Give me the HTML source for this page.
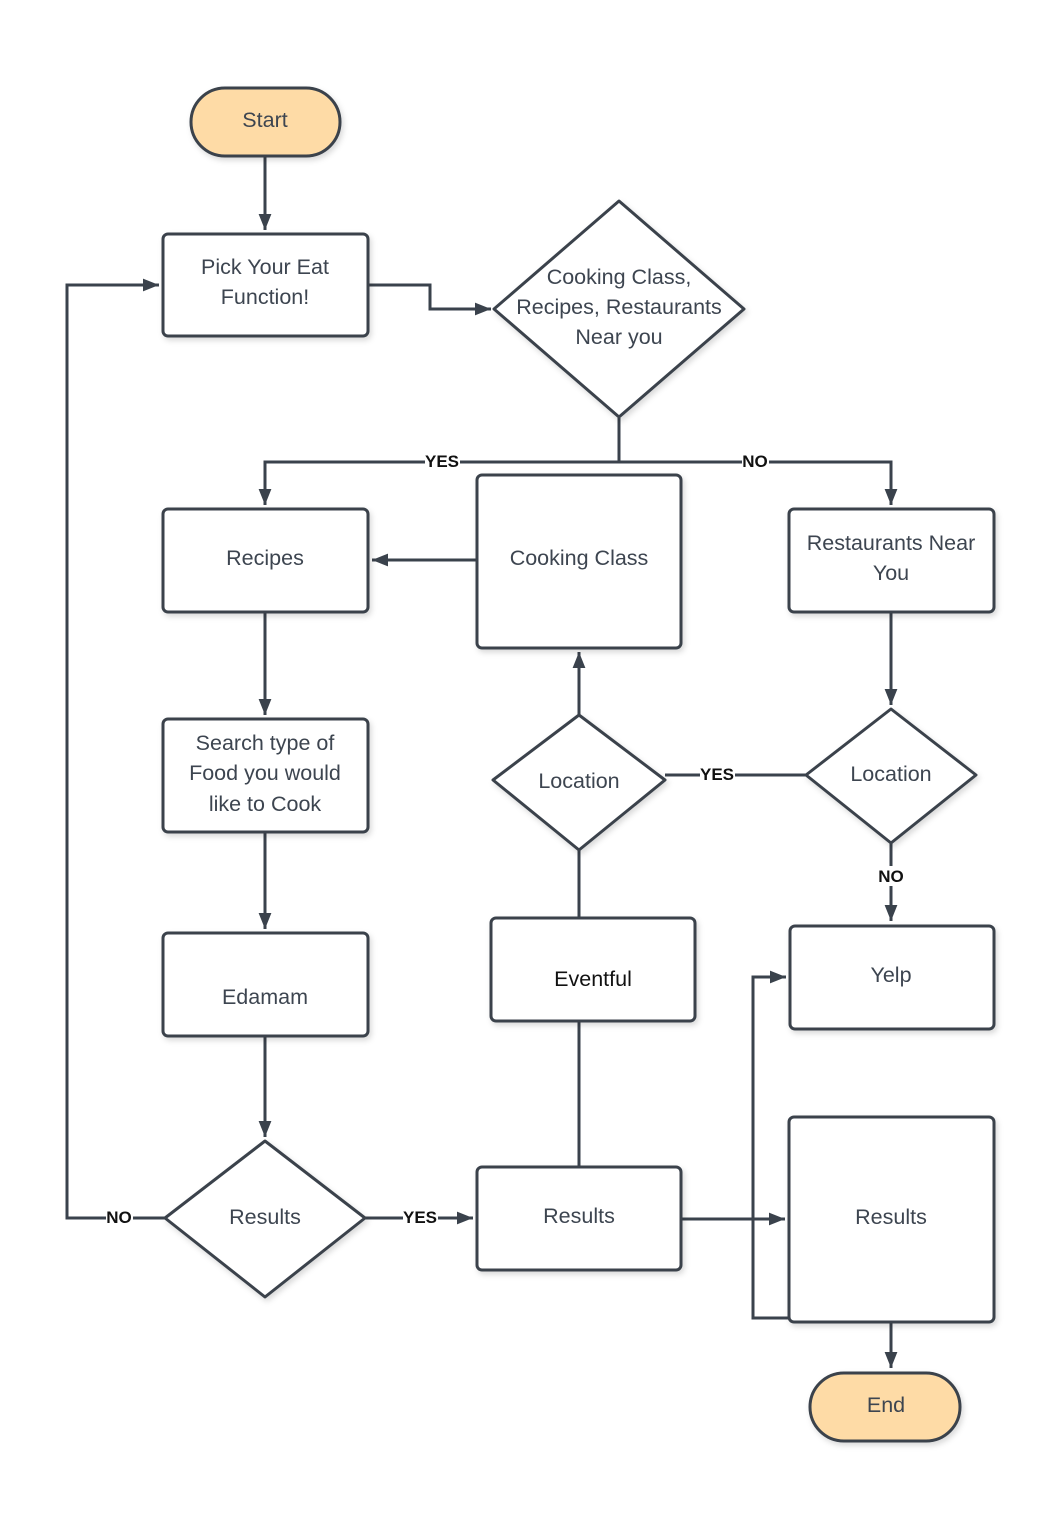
<!DOCTYPE html>
<html><head><style>
html,body{margin:0;padding:0;background:#fff;}
svg{display:block;}
text{font-family:"Liberation Sans",Arial,sans-serif;font-size:21.5px;fill:#3d4550;text-anchor:middle;}
.lb{font-weight:bold;font-size:17px;fill:#111;}
</style></head><body>
<svg width="1060" height="1518" viewBox="0 0 1060 1518" xmlns="http://www.w3.org/2000/svg">
<defs>
<marker id="b" viewBox="0 0 10 10" markerWidth="16" markerHeight="16" refX="10" refY="5" orient="auto" markerUnits="userSpaceOnUse">
<path d="M0,1 L10,5 L0,9 Z" fill="#3a424c"/></marker>
<filter id="s" x="-10%" y="-10%" width="130%" height="130%"><feDropShadow dx="2" dy="3" stdDeviation="3" flood-color="#000" flood-opacity="0.15"/></filter>
</defs>
<g fill="none" stroke="#3a424c" stroke-width="3">
<path d="M265,157 V230" marker-end="url(#b)"/>
<path d="M368,285 H430 V309 H491" marker-end="url(#b)"/>
<path d="M619,418 V462"/>
<path d="M619,462 H265 V505" marker-end="url(#b)"/>
<path d="M619,462 H891 V505" marker-end="url(#b)"/>
<path d="M477,560 H372" marker-end="url(#b)"/>
<path d="M265,612 V715" marker-end="url(#b)"/>
<path d="M265,832 V929" marker-end="url(#b)"/>
<path d="M265,1036 V1137" marker-end="url(#b)"/>
<path d="M165,1218 H67 V285 H159" marker-end="url(#b)"/>
<path d="M365,1218 H473" marker-end="url(#b)"/>
<path d="M681,1219 H785" marker-end="url(#b)"/>
<path d="M789,1318 H753 V977 H786" marker-end="url(#b)"/>
<path d="M579,1167 V1021"/>
<path d="M579,918 V850"/>
<path d="M579,715 V652" marker-end="url(#b)"/>
<path d="M665,775 H806"/>
<path d="M891,612 V705" marker-end="url(#b)"/>
<path d="M891,843 V921" marker-end="url(#b)"/>
<path d="M891,1322 V1368" marker-end="url(#b)"/>
</g>
<g stroke="#3a424c" stroke-width="3" fill="#fff" filter="url(#s)">
<rect x="191" y="88" width="149" height="68" rx="34" fill="#fedba6"/>
<rect x="810" y="1373" width="150" height="68" rx="34" fill="#fedba6"/>
<rect x="163" y="234" width="205" height="102" rx="5"/>
<path d="M619,201 L744,309 L619,417 L494,309 Z" stroke-linejoin="round"/>
<rect x="163" y="509" width="205" height="103" rx="5"/>
<rect x="477" y="475" width="204" height="173" rx="5"/>
<rect x="789" y="509" width="205" height="103" rx="5"/>
<rect x="163" y="719" width="205" height="113" rx="5"/>
<path d="M579,715 L665,780 L579,850 L493,780 Z" stroke-linejoin="round"/>
<path d="M891,709 L976,775 L891,843 L806,775 Z" stroke-linejoin="round"/>
<rect x="491" y="918" width="204" height="103" rx="5"/>
<rect x="790" y="926" width="204" height="103" rx="5"/>
<rect x="163" y="933" width="205" height="103" rx="5"/>
<path d="M265,1141 L365,1218 L265,1297 L165,1218 Z" stroke-linejoin="round"/>
<rect x="477" y="1167" width="204" height="103" rx="5"/>
<rect x="789" y="1117" width="205" height="205" rx="5"/>
</g>
<g fill="#fff">
<rect x="425" y="452" width="35" height="18"/>
<rect x="742" y="452" width="27" height="18"/>
<rect x="700" y="765" width="35" height="18"/>
<rect x="877" y="866" width="28" height="20"/>
<rect x="106" y="1208" width="27" height="18"/>
<rect x="403" y="1208" width="35" height="18"/>
</g>
<text x="442" y="467" class="lb">YES</text>
<text x="755" y="467" class="lb">NO</text>
<text x="717" y="780" class="lb">YES</text>
<text x="891" y="882" class="lb">NO</text>
<text x="119" y="1223" class="lb">NO</text>
<text x="420" y="1223" class="lb">YES</text>

<text x="265" y="127">Start</text>
<text x="886" y="1412">End</text>
<text x="265" y="274">Pick Your Eat</text>
<text x="265" y="304">Function!</text>
<text x="619" y="284">Cooking Class,</text>
<text x="619" y="314">Recipes, Restaurants</text>
<text x="619" y="344">Near you</text>
<text x="265" y="565">Recipes</text>
<text x="579" y="565">Cooking Class</text>
<text x="891" y="550">Restaurants Near</text>
<text x="891" y="580">You</text>
<text x="265" y="750">Search type of</text>
<text x="265" y="780">Food you would</text>
<text x="265" y="811">like to Cook</text>
<text x="579" y="788">Location</text>
<text x="891" y="781">Location</text>
<text x="593" y="986" style="fill:#111">Eventful</text>
<text x="891" y="982">Yelp</text>
<text x="265" y="1004">Edamam</text>
<text x="265" y="1224">Results</text>
<text x="579" y="1223">Results</text>
<text x="891" y="1224">Results</text>
</svg>
</body></html>
